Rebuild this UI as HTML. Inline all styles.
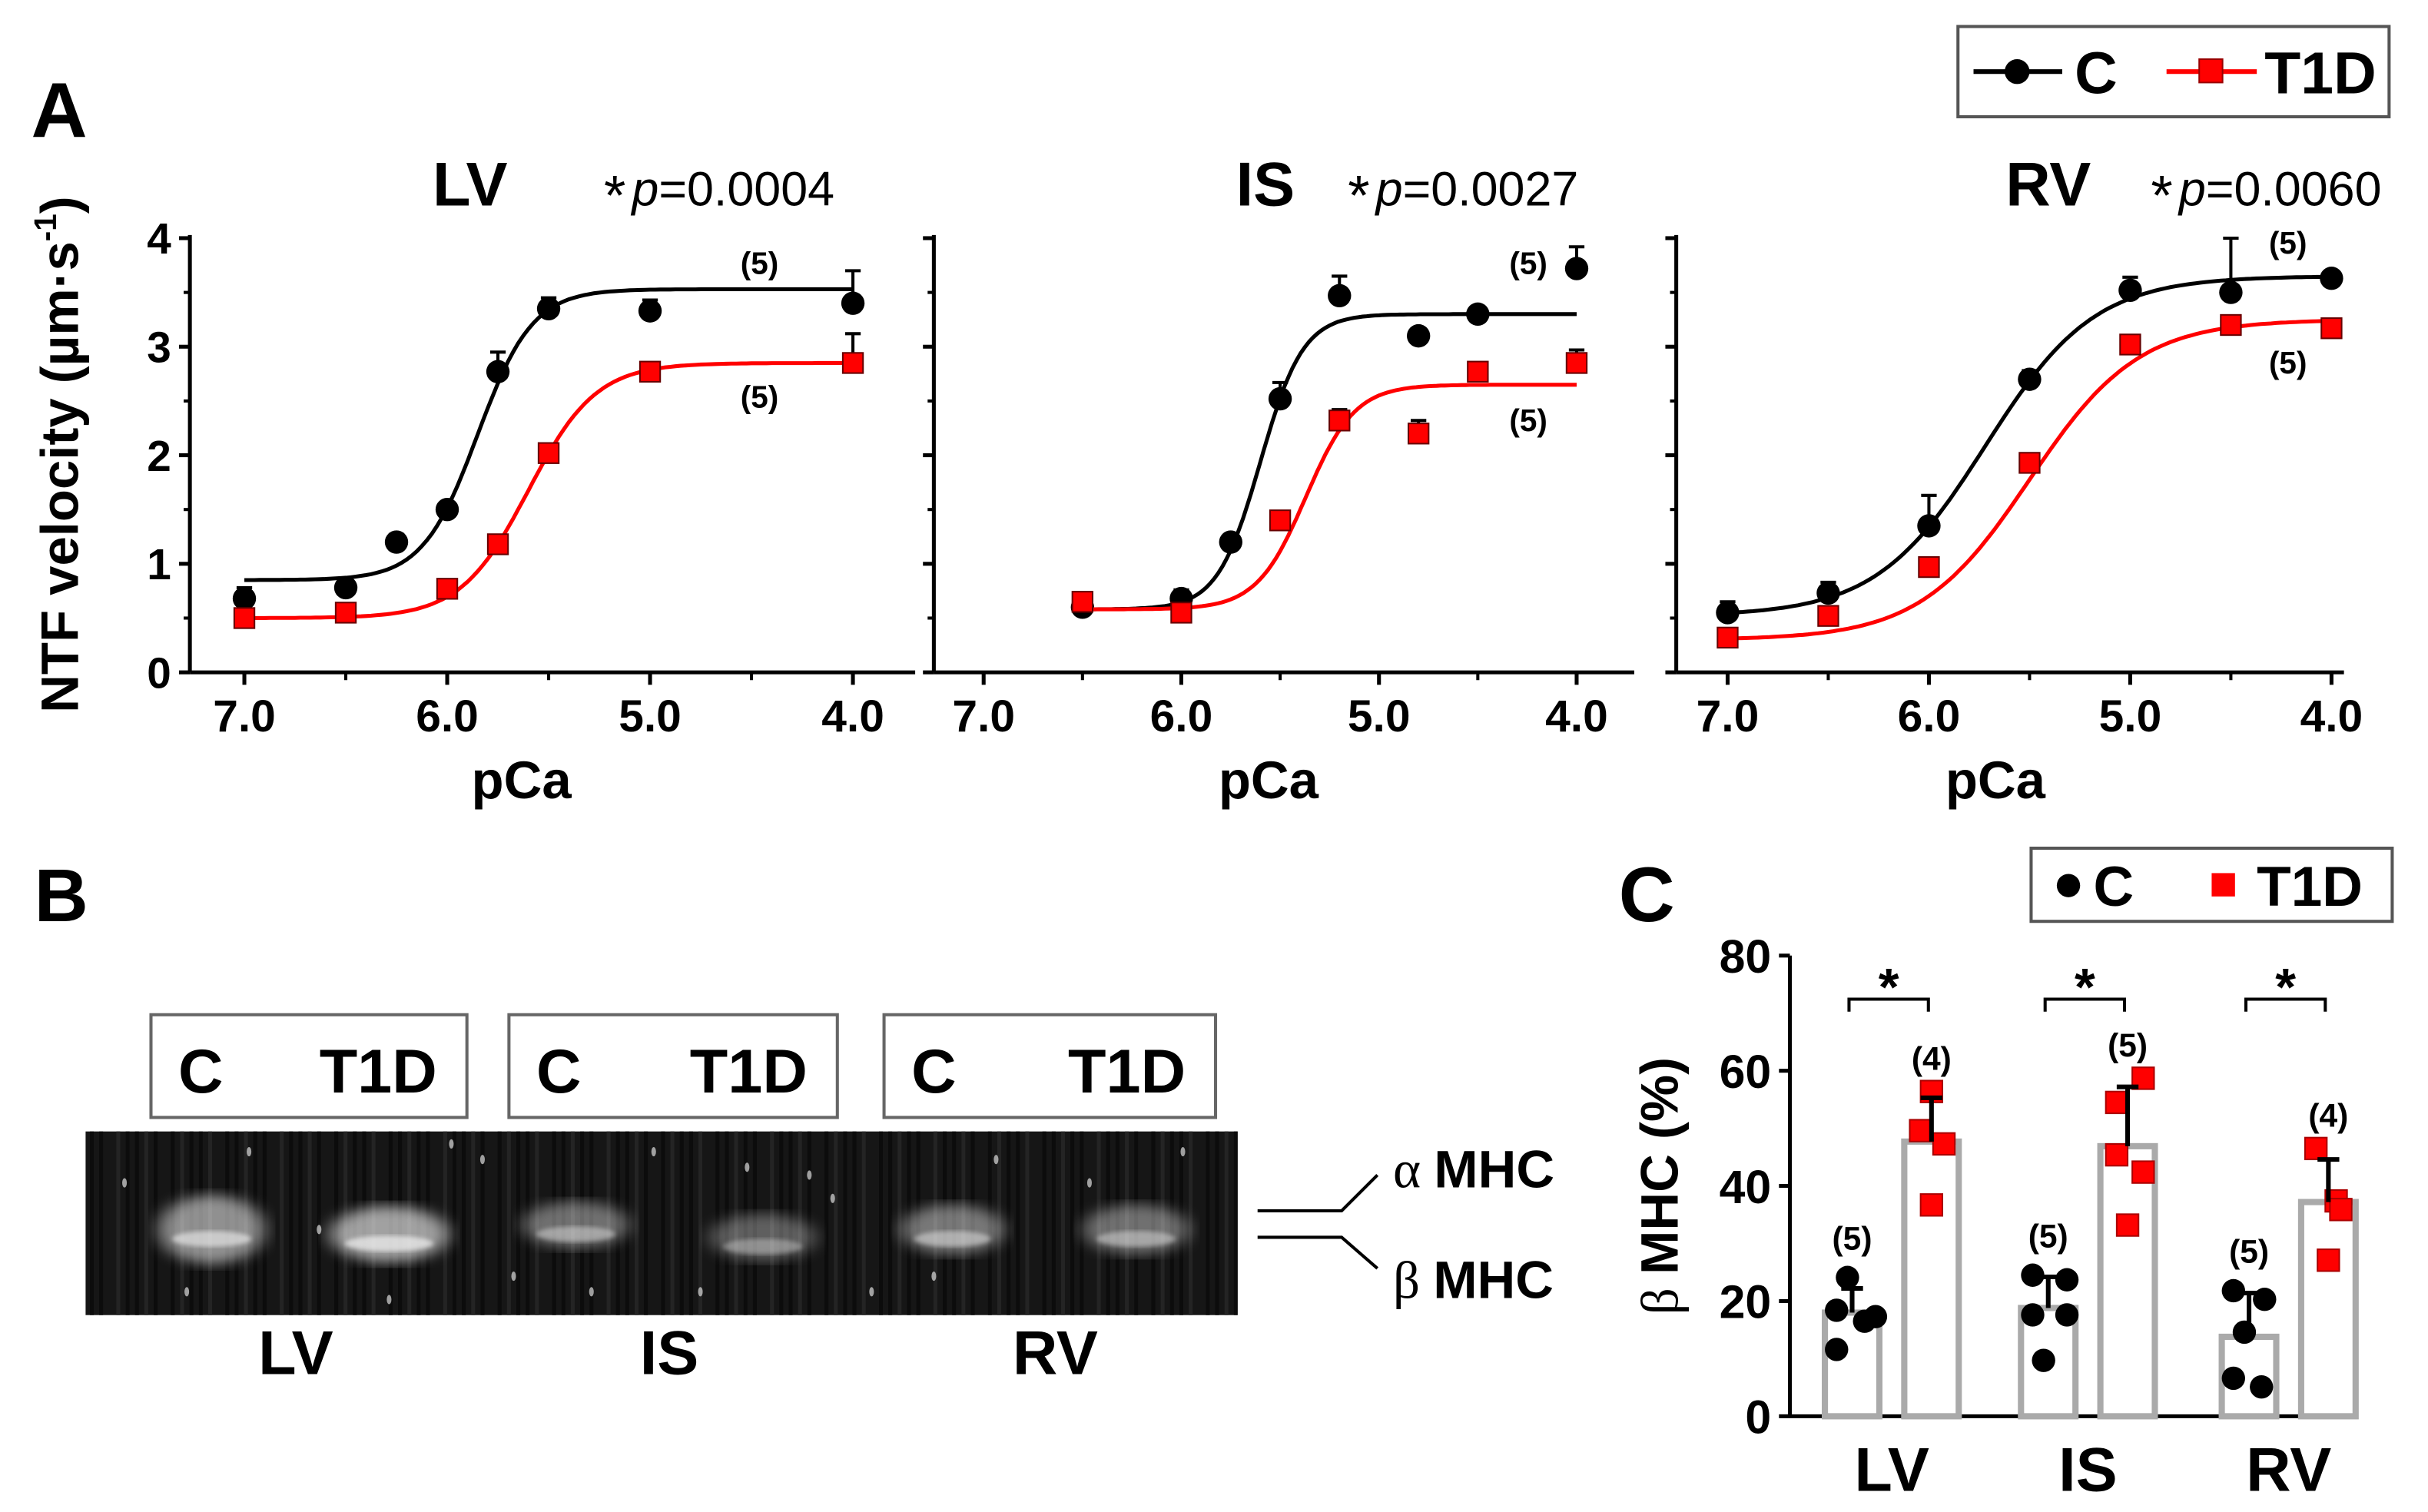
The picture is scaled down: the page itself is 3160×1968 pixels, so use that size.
<!DOCTYPE html>
<html><head><meta charset="utf-8"><style>
html,body{margin:0;padding:0;background:#fff;}
svg{display:block;font-family:"Liberation Sans",Arial,sans-serif;}
</style></head><body>
<svg id="fig" width="3160" height="1968" viewBox="0 0 1560 971.5" xmlns="http://www.w3.org/2000/svg">
<defs>
<filter id="blur4"><feGaussianBlur stdDeviation="6 4"/></filter>
<filter id="blur1"><feGaussianBlur stdDeviation="1.5"/></filter>
</defs>
<g id="panelA"></g>
<g id="panelB"></g>
<g id="panelC"></g>
</svg>
<script>
// ---------- Panel A data ----------
const lvCx = [7.0,6.5,6.25,6.0,5.75,5.5,5.0,4.0];
const lvCy = [0.68,0.78,1.2,1.5,2.77,3.35,3.33,3.4];
const lvCe = [0.1,0.06,0.07,0.06,0.18,0.1,0.1,0.3];
const lvTx = [7.0,6.5,6.0,5.75,5.5,5.0,4.0];
const lvTy = [0.5,0.55,0.77,1.18,2.02,2.77,2.85];
const lvTe = [0.05,0.05,0.06,0.08,0.08,0.08,0.27];
const isCx = [6.5,6.0,5.75,5.5,5.2,4.8,4.5,4.0];
const isCy = [0.6,0.68,1.2,2.52,3.47,3.1,3.3,3.72];
const isCe = [0.05,0.08,0.05,0.15,0.18,0.05,0.05,0.2];
const isTx = [6.5,6.0,5.5,5.2,4.8,4.5,4.0];
const isTy = [0.65,0.55,1.4,2.32,2.2,2.77,2.85];
const isTe = [0.08,0.05,0.07,0.1,0.12,0.08,0.12];
const rvCx = [7.0,6.5,6.0,5.5,5.0,4.5,4.0];
const rvCy = [0.55,0.73,1.35,2.7,3.52,3.5,3.63];
const rvCe = [0.1,0.1,0.28,0.08,0.12,0.5,0.05];
const rvTx = [7.0,6.5,6.0,5.5,5.0,4.5,4.0];
const rvTy = [0.32,0.52,0.97,1.93,3.02,3.2,3.17];
const rvTe = [0.05,0.05,0.08,0.06,0.05,0.05,0.05];
// Hill fit params: [min, max, pCa50, n]
const lvCfit = [0.85,3.53,5.85,3.2];
const lvTfit = [0.5,2.85,5.6,2.6];
const isCfit = [0.58,3.3,5.6,4.0];
const isTfit = [0.58,2.65,5.37,3.5];
const rvCfit = [0.52,3.65,5.72,1.6];
const rvTfit = [0.3,3.25,5.5,1.6];
const xTickLabels = ["7.0","6.0","5.0","4.0"];
const xTickVals = [7,6,5,4];
const yTickVals = [0,1,2,3,4];

// ---------- Panel C data ----------
const cGroups = ["LV","IS","RV"];
const cBarC = [18,18.8,13.8];
const cBarT = [47.7,46.9,37.2];
const cErrC = [22.2,24.2,21.4];
const cErrT = [55.3,57.2,44.6];
const cPtsC = [[24.1,18.4,16.5,17.3,11.6],[24.5,23.7,17.6,17.6,9.7],[21.8,20.3,14.6,6.6,5.1]];
const cPtsT = [[56.4,49.6,47.3,36.7],[58.7,54.5,45.4,42.4,33.2],[46.5,37.4,35.9,27.1]];
const cNC = ["(5)","(5)","(5)"];
const cNT = ["(4)","(5)","(4)"];
const cYTicks = [0,20,40,60,80];

const NS="http://www.w3.org/2000/svg";
function mk(parent,tag,attrs,text){const e=document.createElementNS(NS,tag);for(const k in attrs)e.setAttribute(k,attrs[k]);if(text!==undefined)e.textContent=text;parent.appendChild(e);return e;}

const A=document.getElementById('panelA');
const lA=mk(A,'text',{x:20,y:88,'font-size':50,'font-weight':'bold'},'A');



// legend A
const lg=mk(A,'g',{});


mk(lg,'rect',{x:1258,y:17,width:277,height:58,fill:'#fff',stroke:'#555','stroke-width':2});
mk(lg,'line',{x1:1268,y1:46,x2:1325,y2:46,stroke:'#000','stroke-width':3});
mk(lg,'circle',{cx:1296,cy:46,r:8,fill:'#000'});
mk(lg,'text',{x:1333,y:60,'font-size':38,'font-weight':'bold'},'C');
mk(lg,'line',{x1:1392,y1:46,x2:1450,y2:46,stroke:'#f00','stroke-width':3});
mk(lg,'rect',{x:1413,y:38,width:15,height:15,fill:'#f00',stroke:'#900','stroke-width':1});
mk(lg,'text',{x:1455,y:60,'font-size':38,'font-weight':'bold'},'T1D');

const panels=[
 {name:'lv',x0:122,x1:588,x7:157,x4:548,title:'LV',tx:302,p:'0.0004',px:388,ylab:true,pcx:335,
  C:[lvCx,lvCy,lvCe,lvCfit],T:[lvTx,lvTy,lvTe,lvTfit],
  nC:[488,176],nT:[488,262]},
 {name:'is',x0:600,x1:1050,x7:632,x4:1013,title:'IS',tx:813,p:'0.0027',px:866,ylab:false,pcx:815,
  C:[isCx,isCy,isCe,isCfit],T:[isTx,isTy,isTe,isTfit],
  nC:[982,176],nT:[982,277]},
 {name:'rv',x0:1077,x1:1506,x7:1110,x4:1498,title:'RV',tx:1316,p:'0.0060',px:1382,ylab:false,pcx:1282,
  C:[rvCx,rvCy,rvCe,rvCfit],T:[rvTx,rvTy,rvTe,rvTfit],
  nC:[1470,163],nT:[1470,240]}
];
const yTop=153,yBot=432;
panels.forEach(P=>{
  const g=mk(A,'g',{});
  
  
  const sx=v=>P.x7+(7-v)*(P.x4-P.x7)/3;
  const sy=v=>yBot-v*(yBot-yTop)/4;
  const ya=mk(g,'line',{x1:P.x0,y1:yTop-2,x2:P.x0,y2:yBot,stroke:'#000','stroke-width':2.5});
  
  
  const xa=mk(g,'line',{x1:P.x0,y1:yBot,x2:P.x1,y2:yBot,stroke:'#000','stroke-width':2.5});
  
  
  yTickVals.forEach(v=>{
    mk(g,'line',{x1:P.x0-7,y1:sy(v),x2:P.x0,y2:sy(v),stroke:'#000','stroke-width':2.5});
    if(v<4) mk(g,'line',{x1:P.x0-4,y1:sy(v+0.5),x2:P.x0,y2:sy(v+0.5),stroke:'#000','stroke-width':2});
    if(P.ylab){const t=mk(g,'text',{x:P.x0-12,y:sy(v)+10,'font-size':28,'font-weight':'bold','text-anchor':'end'},String(v));
      
      }
  });
  xTickVals.forEach((v,i)=>{
    mk(g,'line',{x1:sx(v),y1:yBot,x2:sx(v),y2:yBot+8,stroke:'#000','stroke-width':2.5});
    if(v>4) mk(g,'line',{x1:sx(v-0.5),y1:yBot,x2:sx(v-0.5),y2:yBot+5,stroke:'#000','stroke-width':2});
    const t=mk(g,'text',{x:sx(v),y:yBot+38,'font-size':29,'font-weight':'bold','text-anchor':'middle'},xTickLabels[i]);
    
    
  });
  const xt=mk(g,'text',{x:P.pcx,y:513,'font-size':34,'font-weight':'bold','text-anchor':'middle'},'pCa');
  
  
  const tt=mk(g,'text',{x:P.tx,y:132,'font-size':40,'font-weight':'bold','text-anchor':'middle'},P.title);
  
  
  const pt=mk(g,'text',{x:P.px,y:132,'font-size':31});
  
  
  mk(pt,'tspan',{'font-size':36,dy:6},'*');
  mk(pt,'tspan',{'font-style':'italic',dy:-6,dx:4},'p');
  mk(pt,'tspan',{},'='+P.p);
  [['C',P.C,'#000',P.nC],['T',P.T,'#f00',P.nT]].forEach(([k,S,col,nPos])=>{
    const [xs,ys,es,fit]=S;
    const sg=mk(g,'g',{});
    
    
    let d='';const start=xs[0];
    for(let i=0;i<=120;i++){const v=start-(start-4)*i/120;
      const y=fit[0]+(fit[1]-fit[0])/(1+Math.pow(10,fit[3]*(v-fit[2])));
      d+=(i?'L':'M')+sx(v).toFixed(1)+','+sy(y).toFixed(1);}
    const c=mk(sg,'path',{d:d,fill:'none',stroke:col,'stroke-width':2.5});
    
    
    xs.forEach((xv,i)=>{
      const X=sx(xv),Y=sy(ys[i]),E=sy(ys[i]+es[i]);
      mk(sg,'line',{x1:X,y1:Y,x2:X,y2:E,stroke:'#000','stroke-width':2});
      mk(sg,'line',{x1:X-5,y1:E,x2:X+5,y2:E,stroke:'#000','stroke-width':2});
      let m;
      if(k==='C') m=mk(sg,'circle',{cx:X,cy:Y,r:7.5,fill:'#000'});
      else m=mk(sg,'rect',{x:X-6.5,y:Y-6.5,width:13,height:13,fill:'#f00',stroke:'#600','stroke-width':1});
      
      
    });
    const nt=mk(sg,'text',{x:nPos[0],y:nPos[1],'font-size':20,'font-weight':'bold','text-anchor':'middle'},'(5)');
    
    
  });
});
const yT=mk(A,'text',{x:0,y:0,'font-size':34,'font-weight':'bold','text-anchor':'middle',transform:'translate(50,292) rotate(-90)'});


mk(yT,'tspan',{},'NTF velocity (µm·s');
mk(yT,'tspan',{'font-size':20,dy:-14},'-1');
mk(yT,'tspan',{dy:14},')');

// ---------- Panel B ----------
const B=document.getElementById('panelB');
const lB=mk(B,'text',{x:22,y:592,'font-size':48,'font-weight':'bold'},'B');


const boxes=[[97,300],[327,538],[568,781]];
boxes.forEach(b=>{
  const g=mk(B,'g',{});
  
  
  mk(g,'rect',{x:b[0],y:652,width:b[1]-b[0],height:66,fill:'#fff',stroke:'#666','stroke-width':2});
  mk(g,'text',{x:b[0]+32,y:702,'font-size':40,'font-weight':'bold','text-anchor':'middle'},'C');
  mk(g,'text',{x:b[1]-57,y:702,'font-size':40,'font-weight':'bold','text-anchor':'middle'},'T1D');
});
const gel=mk(B,'g',{});


mk(gel,'rect',{x:55,y:727,width:740,height:118,fill:'#161616'});
for(let x=58;x<795;x+=7){
  mk(gel,'line',{x1:x+(x*37%5),y1:727,x2:x+(x*37%5),y2:845,stroke:(x*13%3===0)?'#242424':'#0c0c0c','stroke-width':2.5});
}
const bands=[[136,790,34,22,0.75],[250,793,38,18,0.85],[370,787,34,15,0.55],[490,795,34,15,0.45],[612,790,33,16,0.6],[730,790,34,16,0.55]];
bands.forEach(b=>{
  mk(gel,'ellipse',{cx:b[0],cy:b[1],rx:b[2],ry:b[3],fill:'#fff',opacity:b[4]*0.7,filter:'url(#blur4)'});
  mk(gel,'ellipse',{cx:b[0],cy:b[1]+6,rx:b[2]*0.75,ry:5,fill:'#fff',opacity:b[4]*0.7,filter:'url(#blur1)'});
});
[[80,760],[160,740],[310,745],[420,740],[520,755],[560,830],[640,745],[700,760],[450,830],[120,830],[250,835],[330,820],[760,740],[600,820],[380,830],[205,790],[535,770],[290,735],[480,750]].forEach(p=>{
  mk(gel,'ellipse',{cx:p[0],cy:p[1],rx:1.5,ry:3,fill:'#ddd',opacity:0.7});
});
[['LV',190],['IS',430],['RV',678]].forEach(l=>{
  const t=mk(B,'text',{x:l[1],y:883,'font-size':40,'font-weight':'bold','text-anchor':'middle'},l[0]);
  
  
});
mk(B,'path',{d:'M808,778 L862,778 L885,755',fill:'none',stroke:'#000','stroke-width':2});
mk(B,'path',{d:'M808,795 L862,795 L885,815',fill:'none',stroke:'#000','stroke-width':2});
const am=mk(B,'text',{x:895,y:763,'font-size':34,'font-weight':'bold'});


mk(am,'tspan',{'font-weight':'normal','font-family':'"Liberation Serif",serif'},'α ');
mk(am,'tspan',{},'MHC');
const bm=mk(B,'text',{x:895,y:834,'font-size':34,'font-weight':'bold'});


mk(bm,'tspan',{'font-weight':'normal','font-family':'"Liberation Serif",serif'},'β ');
mk(bm,'tspan',{},'MHC');

// ---------- Panel C ----------
const Cg=document.getElementById('panelC');
const lC=mk(Cg,'text',{x:1040,y:592,'font-size':50,'font-weight':'bold'},'C');


const lg2=mk(Cg,'g',{});


mk(lg2,'rect',{x:1305,y:545,width:232,height:47,fill:'#fff',stroke:'#555','stroke-width':2});
mk(lg2,'circle',{cx:1329,cy:569,r:7.5,fill:'#000'});
mk(lg2,'text',{x:1345,y:582,'font-size':36,'font-weight':'bold'},'C');
mk(lg2,'rect',{x:1421,y:561,width:15,height:15,fill:'#f00'});
mk(lg2,'text',{x:1450,y:582,'font-size':36,'font-weight':'bold'},'T1D');
const cy0=910,cy80=614;
const csy=v=>cy0-v*(cy0-cy80)/80;
const cxC=[1190,1316,1445], gap=51, bw=35;
const cax=mk(Cg,'line',{x1:1150,y1:cy80,x2:1150,y2:cy0,stroke:'#000','stroke-width':2.5});


const cxa=mk(Cg,'line',{x1:1150,y1:cy0,x2:1512,y2:cy0,stroke:'#000','stroke-width':2.5});


cYTicks.forEach(v=>{
  mk(Cg,'line',{x1:1143,y1:csy(v),x2:1150,y2:csy(v),stroke:'#000','stroke-width':2.5});
  const t=mk(Cg,'text',{x:1138,y:csy(v)+11,'font-size':30,'font-weight':'bold','text-anchor':'end'},String(v));
  
  
});
const cyt=mk(Cg,'text',{x:0,y:0,'font-size':34,'font-weight':'bold','text-anchor':'middle',transform:'translate(1078,762) rotate(-90)'});


mk(cyt,'tspan',{'font-weight':'normal','font-family':'"Liberation Serif",serif'},'β ');
mk(cyt,'tspan',{},'MHC (%)');
const offC=[[-3,-10,8,15,-10],[-10,12,-10,12,-3],[-10,10,-3,-10,8]];
const offT=[[0,-7,8,0],[10,-7,-7,10,0],[-8,5,8,0]];
cGroups.forEach((name,i)=>{
  const g=mk(Cg,'g',{});
  
  
  const xC=cxC[i], xT=cxC[i]+gap;
  const bc=mk(g,'rect',{x:xC-bw/2,y:csy(cBarC[i]),width:bw,height:cy0-csy(cBarC[i]),fill:'#fff',stroke:'#aaa','stroke-width':4});
  
  
  const bt=mk(g,'rect',{x:xT-bw/2,y:csy(cBarT[i]),width:bw,height:cy0-csy(cBarT[i]),fill:'#fff',stroke:'#aaa','stroke-width':4});
  
  
  cPtsC[i].forEach((v,j)=>{
    const p=mk(g,'circle',{cx:xC+offC[i][j],cy:csy(v),r:7.5,fill:'#000'});
    
    
  });
  cPtsT[i].forEach((v,j)=>{
    const p=mk(g,'rect',{x:xT+offT[i][j]-7,y:csy(v)-7,width:14,height:14,fill:'#f00',stroke:'#a00','stroke-width':1});
    
    
  });
  [[xC,cBarC[i],cErrC[i]],[xT,cBarT[i],cErrT[i]]].forEach(e=>{
    mk(g,'line',{x1:e[0],y1:csy(e[1]),x2:e[0],y2:csy(e[2]),stroke:'#000','stroke-width':3});
    mk(g,'line',{x1:e[0]-7,y1:csy(e[2]),x2:e[0]+7,y2:csy(e[2]),stroke:'#000','stroke-width':3});
  });
  const n1=mk(g,'text',{x:xC,y:csy(Math.max(...cPtsC[i],cErrC[i]))-18,'font-size':21,'font-weight':'bold','text-anchor':'middle'},cNC[i]);
  
  
  const n2=mk(g,'text',{x:xT,y:csy(Math.max(...cPtsT[i],cErrT[i]))-14,'font-size':21,'font-weight':'bold','text-anchor':'middle'},cNT[i]);
  
  
  mk(g,'path',{d:`M${xC-2},650 L${xC-2},642 L${xT-2},642 L${xT-2},650`,fill:'none',stroke:'#000','stroke-width':2});
  const st=mk(g,'text',{x:(xC+xT)/2-2,y:646,'font-size':34,'font-weight':'bold','text-anchor':'middle'},'*');
  
  
  const xl=mk(g,'text',{x:(xC+xT)/2,y:958,'font-size':40,'font-weight':'bold','text-anchor':'middle'},name);
  
  
});
</script>
</body></html>
